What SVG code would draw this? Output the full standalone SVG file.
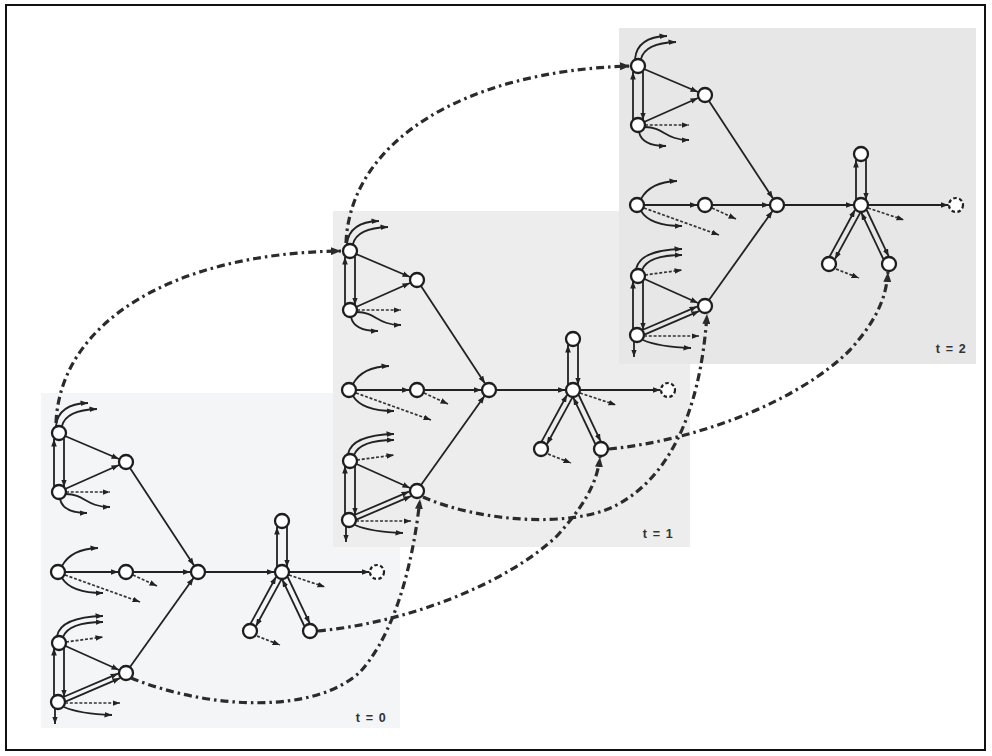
<svg xmlns="http://www.w3.org/2000/svg" width="992" height="756" viewBox="0 0 992 756">
  <defs>
    <marker id="ah" viewBox="0 0 8 6" refX="8" refY="3" markerWidth="7.5" markerHeight="6" markerUnits="userSpaceOnUse" orient="auto">
      <path d="M0,0 L8,3 L0,6 z" fill="#222"/>
    </marker>
    <marker id="ahb" viewBox="0 0 10 8" refX="10" refY="4" markerWidth="10" markerHeight="8" markerUnits="userSpaceOnUse" orient="auto">
      <path d="M0,0 L10,4 L0,8 z" fill="#2b2b2b"/>
    </marker>
    <style>
      .n { fill: #fff; stroke: #1e1e1e; stroke-width: 2.3; }
      .nd { fill: #fff; stroke: #1e1e1e; stroke-width: 2.2; stroke-dasharray: 3.5 2.5; }
      .e { fill: none; stroke: #222; stroke-width: 1.8; marker-end: url(#ah); }
      .ed { fill: none; stroke: #333; stroke-width: 1.7; stroke-dasharray: 3 1.8; marker-end: url(#ah); }
      .dd { fill: none; stroke: #2b2b2b; stroke-width: 3.2; stroke-dasharray: 8 4 2.5 4; marker-end: url(#ahb); }
      .lbl { font-family: "Liberation Sans", Arial, sans-serif; font-size: 12.5px; font-weight: bold; fill: #333; letter-spacing: 1.2px; text-anchor: end; }
    </style>
  </defs>

  <!-- outer frame -->
  <rect x="6" y="5" width="979" height="745" fill="#fff" stroke="#111" stroke-width="2"/>

  <!-- time-slice backgrounds -->
  <rect x="41" y="393" width="359" height="335" fill="#f4f5f7"/>

  <!-- slice t = 0 -->
  <g id="slice-t0">
    <g id="t0-edges">
      <path class="e" d="M65,436 L119,459"/>
      <path class="e" d="M65,489 L119,465"/>
      <path class="e" d="M54,487 L54,439"/>
      <path class="e" d="M64,439 L64,487"/>
      <path class="e" d="M56,426 Q58,404 88,403"/>
      <path class="e" d="M62,426 Q66,410 97,409"/>
      <path class="ed" d="M66,492 L110,492"/>
      <path class="e" d="M66,494 C85,494 86,507 110,507"/>
      <path class="e" d="M60,499 Q63,513 87,513"/>
      <path class="e" d="M130,468 L194,565.5"/>
      <path class="e" d="M62,566 Q71,549 98,548"/>
      <path class="e" d="M62,578 Q71,593 103,593"/>
      <path class="ed" d="M65,575 L140,602"/>
      <path class="e" d="M65,572 L118.5,572"/>
      <path class="ed" d="M133,575 L157,586"/>
      <path class="e" d="M133,572 L190.5,572"/>
      <path class="e" d="M57,636 Q61,617 103,616"/>
      <path class="e" d="M63,637 Q69,622 103,622"/>
      <path class="ed" d="M66,642 L103,637"/>
      <path class="e" d="M54,697 L54,648"/>
      <path class="e" d="M64,648 L64,697"/>
      <path class="e" d="M65.5,646 L119,670"/>
      <path class="e" d="M65.4,701.6 L120,678.2"/>
      <path class="e" d="M63.4,697 L118,673.6"/>
      <path class="ed" d="M65,703 L120,703"/>
      <path class="e" d="M64,707 Q80,714 112,715"/>
      <path class="e" d="M55,709 L55,724"/>
      <path class="e" d="M130,667 L193.5,578"/>
      <path class="e" d="M205,572 L274.5,572"/>
      <path class="e" d="M277,567 L277,527"/>
      <path class="e" d="M287,526 L287,567"/>
      <path class="e" d="M289,572 L369.5,572"/>
      <path class="ed" d="M289,575 L325,587"/>
      <path class="e" d="M250.7,623.4 L276.1,576.8"/>
      <path class="e" d="M281.3,579.6 L255.9,626.2"/>
      <path class="e" d="M304.3,626 L282.3,579.6"/>
      <path class="e" d="M287.7,577 L309.7,623.4"/>
      <path class="ed" d="M257,636 L280,645"/>
    </g>
    <g id="t0-A"><circle class="n" cx="59" cy="433" r="7"/></g>
    <g id="t0-B"><circle class="n" cx="59" cy="492" r="7"/></g>
    <g id="t0-C"><circle class="n" cx="126" cy="462" r="7"/></g>
    <g id="t0-D"><circle class="n" cx="58" cy="572" r="7"/></g>
    <g id="t0-E"><circle class="n" cx="126" cy="572" r="7"/></g>
    <g id="t0-F"><circle class="n" cx="198" cy="572" r="7"/></g>
    <g id="t0-G"><circle class="n" cx="59" cy="643" r="7"/></g>
    <g id="t0-H"><circle class="n" cx="58" cy="702" r="7"/></g>
    <g id="t0-I"><circle class="n" cx="126" cy="673" r="7"/></g>
    <g id="t0-J"><circle class="n" cx="282" cy="572" r="7"/></g>
    <g id="t0-K"><circle class="n" cx="282" cy="521" r="7"/></g>
    <g id="t0-L"><circle class="n" cx="250" cy="631" r="7"/></g>
    <g id="t0-M"><circle class="n" cx="310" cy="631" r="7"/></g>
    <g id="t0-N"><circle class="nd" cx="377" cy="572" r="7"/></g>
    <text class="lbl" x="387" y="721.5">t = 0</text>
  </g>

  <rect x="333" y="211" width="357" height="336" fill="#ededed"/>

  <!-- slice t = 1 -->
  <g id="slice-t1">
    <g transform="translate(291,-182)">
      <g id="t1-edges">
        <path class="e" d="M65,436 L119,459"/>
        <path class="e" d="M65,489 L119,465"/>
        <path class="e" d="M54,487 L54,439"/>
        <path class="e" d="M64,439 L64,487"/>
        <path class="e" d="M56,426 Q58,404 88,403"/>
        <path class="e" d="M62,426 Q66,410 97,409"/>
        <path class="ed" d="M66,492 L110,492"/>
        <path class="e" d="M66,494 C85,494 86,507 110,507"/>
        <path class="e" d="M60,499 Q63,513 87,513"/>
        <path class="e" d="M130,468 L194,565.5"/>
        <path class="e" d="M62,566 Q71,549 98,548"/>
        <path class="e" d="M62,578 Q71,593 103,593"/>
        <path class="ed" d="M65,575 L140,602"/>
        <path class="e" d="M65,572 L118.5,572"/>
        <path class="ed" d="M133,575 L157,586"/>
        <path class="e" d="M133,572 L190.5,572"/>
        <path class="e" d="M57,636 Q61,617 103,616"/>
        <path class="e" d="M63,637 Q69,622 103,622"/>
        <path class="ed" d="M66,642 L103,637"/>
        <path class="e" d="M54,697 L54,648"/>
        <path class="e" d="M64,648 L64,697"/>
        <path class="e" d="M65.5,646 L119,670"/>
        <path class="e" d="M65.4,701.6 L120,678.2"/>
        <path class="e" d="M63.4,697 L118,673.6"/>
        <path class="ed" d="M65,703 L120,703"/>
        <path class="e" d="M64,707 Q80,714 112,715"/>
        <path class="e" d="M55,709 L55,724"/>
        <path class="e" d="M130,667 L193.5,578"/>
        <path class="e" d="M205,572 L274.5,572"/>
        <path class="e" d="M277,567 L277,527"/>
        <path class="e" d="M287,526 L287,567"/>
        <path class="e" d="M289,572 L369.5,572"/>
        <path class="ed" d="M289,575 L325,587"/>
        <path class="e" d="M250.7,623.4 L276.1,576.8"/>
        <path class="e" d="M281.3,579.6 L255.9,626.2"/>
        <path class="e" d="M304.3,626 L282.3,579.6"/>
        <path class="e" d="M287.7,577 L309.7,623.4"/>
        <path class="ed" d="M257,636 L280,645"/>
      </g>
      <g id="t1-A"><circle class="n" cx="59" cy="433" r="7"/></g>
      <g id="t1-B"><circle class="n" cx="59" cy="492" r="7"/></g>
      <g id="t1-C"><circle class="n" cx="126" cy="462" r="7"/></g>
      <g id="t1-D"><circle class="n" cx="58" cy="572" r="7"/></g>
      <g id="t1-E"><circle class="n" cx="126" cy="572" r="7"/></g>
      <g id="t1-F"><circle class="n" cx="198" cy="572" r="7"/></g>
      <g id="t1-G"><circle class="n" cx="59" cy="643" r="7"/></g>
      <g id="t1-H"><circle class="n" cx="58" cy="702" r="7"/></g>
      <g id="t1-I"><circle class="n" cx="126" cy="673" r="7"/></g>
      <g id="t1-J"><circle class="n" cx="282" cy="572" r="7"/></g>
      <g id="t1-K"><circle class="n" cx="282" cy="521" r="7"/></g>
      <g id="t1-L"><circle class="n" cx="250" cy="631" r="7"/></g>
      <g id="t1-M"><circle class="n" cx="310" cy="631" r="7"/></g>
      <g id="t1-N"><circle class="nd" cx="377" cy="572" r="7"/></g>
    </g>
    <text class="lbl" x="674" y="538">t = 1</text>
  </g>

  <rect x="619" y="28" width="357" height="336" fill="#e7e7e7"/>

  <!-- slice t = 2 -->
  <g id="slice-t2">
    <g transform="translate(579,-367)">
      <g id="t2-edges">
        <path class="e" d="M65,436 L119,459"/>
        <path class="e" d="M65,489 L119,465"/>
        <path class="e" d="M54,487 L54,439"/>
        <path class="e" d="M64,439 L64,487"/>
        <path class="e" d="M56,426 Q58,404 88,403"/>
        <path class="e" d="M62,426 Q66,410 97,409"/>
        <path class="ed" d="M66,492 L110,492"/>
        <path class="e" d="M66,494 C85,494 86,507 110,507"/>
        <path class="e" d="M60,499 Q63,513 87,513"/>
        <path class="e" d="M130,468 L194,565.5"/>
        <path class="e" d="M62,566 Q71,549 98,548"/>
        <path class="e" d="M62,578 Q71,593 103,593"/>
        <path class="ed" d="M65,575 L140,602"/>
        <path class="e" d="M65,572 L118.5,572"/>
        <path class="ed" d="M133,575 L157,586"/>
        <path class="e" d="M133,572 L190.5,572"/>
        <path class="e" d="M57,636 Q61,617 103,616"/>
        <path class="e" d="M63,637 Q69,622 103,622"/>
        <path class="ed" d="M66,642 L103,637"/>
        <path class="e" d="M54,697 L54,648"/>
        <path class="e" d="M64,648 L64,697"/>
        <path class="e" d="M65.5,646 L119,670"/>
        <path class="e" d="M65.4,701.6 L120,678.2"/>
        <path class="e" d="M63.4,697 L118,673.6"/>
        <path class="ed" d="M65,703 L120,703"/>
        <path class="e" d="M64,707 Q80,714 112,715"/>
        <path class="e" d="M55,709 L55,724"/>
        <path class="e" d="M130,667 L193.5,578"/>
        <path class="e" d="M205,572 L274.5,572"/>
        <path class="e" d="M277,567 L277,527"/>
        <path class="e" d="M287,526 L287,567"/>
        <path class="e" d="M289,572 L369.5,572"/>
        <path class="ed" d="M289,575 L325,587"/>
        <path class="e" d="M250.7,623.4 L276.1,576.8"/>
        <path class="e" d="M281.3,579.6 L255.9,626.2"/>
        <path class="e" d="M304.3,626 L282.3,579.6"/>
        <path class="e" d="M287.7,577 L309.7,623.4"/>
        <path class="ed" d="M257,636 L280,645"/>
      </g>
      <g id="t2-A"><circle class="n" cx="59" cy="433" r="7"/></g>
      <g id="t2-B"><circle class="n" cx="59" cy="492" r="7"/></g>
      <g id="t2-C"><circle class="n" cx="126" cy="462" r="7"/></g>
      <g id="t2-D"><circle class="n" cx="58" cy="572" r="7"/></g>
      <g id="t2-E"><circle class="n" cx="126" cy="572" r="7"/></g>
      <g id="t2-F"><circle class="n" cx="198" cy="572" r="7"/></g>
      <g id="t2-G"><circle class="n" cx="59" cy="643" r="7"/></g>
      <g id="t2-H"><circle class="n" cx="58" cy="702" r="7"/></g>
      <g id="t2-I"><circle class="n" cx="126" cy="673" r="7"/></g>
      <g id="t2-J"><circle class="n" cx="282" cy="572" r="7"/></g>
      <g id="t2-K"><circle class="n" cx="282" cy="521" r="7"/></g>
      <g id="t2-L"><circle class="n" cx="250" cy="631" r="7"/></g>
      <g id="t2-M"><circle class="n" cx="310" cy="631" r="7"/></g>
      <g id="t2-N"><circle class="nd" cx="377" cy="572" r="7"/></g>
    </g>
    <text class="lbl" x="967" y="353">t = 2</text>
  </g>

  <!-- temporal links between slices -->
  <g id="temporal-links">
    <path class="dd" d="M56,423 C60,323 172,253 341,251"/>
    <path class="dd" d="M346,243 C350,143 461,71 630,66"/>
    <path class="dd" d="M131,678 C210,710 315,714 360,672 C385,645 410,590 420,499"/>
    <path class="dd" d="M423,497 C480,522 570,528 615,506 C665,480 700,420 707,314"/>
    <path class="dd" d="M318,631 C405,623 505,585 557,536 C582,508 597,485 600,457"/>
    <path class="dd" d="M609,449 C700,440 800,400 850,350 C875,322 886,300 888,272"/>
  </g>
</svg>
